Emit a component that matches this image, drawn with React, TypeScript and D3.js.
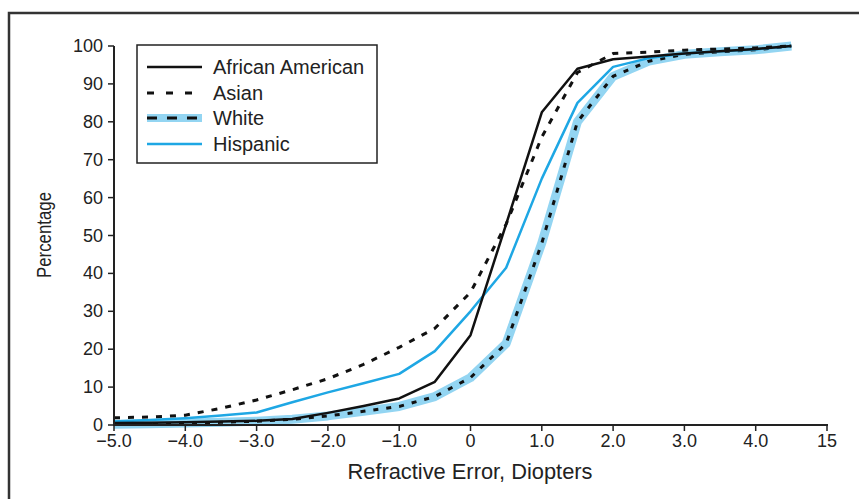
import React from "react";
import * as d3 from "d3";

const xValues = [-5, -4.5, -4, -3.5, -3, -2.5, -2, -1.5, -1, -0.5, 0, 0.5, 1, 1.5, 2, 2.5, 3, 3.5, 4, 4.5];
const africanAmerican = [0.5, 0.6, 0.7, 0.9, 1.1, 1.6, 3.2, 5, 7, 11.4, 23.7, 53, 82.5, 94, 96.5, 97.2, 98, 98.6, 99.2, 100];
const asian = [1.9, 2.1, 2.6, 4.4, 6.6, 9.3, 12.2, 16, 20.5, 25.5, 35, 53, 76, 93, 98, 98.4, 98.9, 99.2, 99.5, 100];
const white = [0.2, 0.3, 0.5, 0.7, 1, 1.5, 2.4, 3.6, 4.9, 7.5, 12.5, 21.5, 48, 80, 92, 96, 97.8, 98.5, 99, 100];
const hispanic = [0.9, 1.3, 1.8, 2.5, 3.3, 6, 8.6, 11, 13.5, 19.5, 30, 41.5, 65, 85, 94.5, 96.8, 98, 98.6, 99.1, 100];

const xTicks = [-5, -4, -3, -2, -1, 0, 1, 2, 3, 4, 5];
const xTickLabels = ["\u22125.0", "\u22124.0", "\u22123.0", "\u22122.0", "\u22121.0", "0", "1.0", "2.0", "3.0", "4.0", "15"];
const yTicks = [0, 10, 20, 30, 40, 50, 60, 70, 80, 90, 100];
const legendLabels = ["African American", "Asian", "White", "Hispanic"];

const W = 859;
const H = 499;
const FONT = "'Liberation Sans', Arial, sans-serif";
const TXT = "#222";
const BLUE = "#1ea7e4";
const BAND = "#93d5f2";

export default function App() {
  const x = d3.scaleLinear().domain([-5, 5]).range([114, 827]);
  const y = d3.scaleLinear().domain([0, 100]).range([425, 46]);
  const line = (vals: number[]) =>
    d3.line<number>().x((_, i) => x(xValues[i])).y((d) => y(d))(vals) || "";

  const legendX0 = 147;
  const legendX1 = 202;
  const legendRows = [67, 93, 118, 144];

  return (
    <svg width={W} height={H} style={{ position: "absolute", left: 0, top: 0, background: "#fff" }}>
      <rect x={9} y={13} width={900} height={600} fill="none" stroke="#333" strokeWidth={2.5} />

      {/* curves */}
      <path d={line(white)} fill="none" stroke={BAND} strokeWidth={9} strokeLinejoin="round" />
      <path d={line(white)} fill="none" stroke="#111" strokeWidth={3} strokeDasharray="5 8" />
      <path d={line(hispanic)} fill="none" stroke={BLUE} strokeWidth={2.5} strokeLinejoin="round" />
      <path d={line(asian)} fill="none" stroke="#111" strokeWidth={3} strokeDasharray="6 8" />
      <path d={line(africanAmerican)} fill="none" stroke="#111" strokeWidth={2.5} strokeLinejoin="round" />

      {/* axes */}
      <line x1={x(-5)} x2={x(5) + 1} y1={y(0)} y2={y(0)} stroke="#222" strokeWidth={2} />
      <line x1={x(-5)} x2={x(-5)} y1={y(0) + 1} y2={y(100)} stroke="#222" strokeWidth={2} />
      {xTicks.map((t, i) => (
        <g key={"xt" + t}>
          <line x1={x(t)} x2={x(t)} y1={y(0)} y2={y(0) + 6} stroke="#222" strokeWidth={1.5} />
          <text x={x(t)} y={447} textAnchor="middle" fontFamily={FONT} fontSize={18} fill={TXT}>
            {xTickLabels[i]}
          </text>
        </g>
      ))}
      {yTicks.map((t) => (
        <g key={"yt" + t}>
          <line x1={x(-5) - 6} x2={x(-5)} y1={y(t)} y2={y(t)} stroke="#222" strokeWidth={1.5} />
          <text x={103} y={y(t) + 6} textAnchor="end" fontFamily={FONT} fontSize={18} fill={TXT}>
            {t}
          </text>
        </g>
      ))}
      <text x={470} y={479} textAnchor="middle" fontFamily={FONT} fontSize={22} fill={TXT}
        textLength={245} lengthAdjust="spacingAndGlyphs">
        Refractive Error, Diopters
      </text>
      <text
        transform={`translate(51,235) rotate(-90)`}
        textAnchor="middle"
        fontFamily={FONT}
        fontSize={20}
        fill={TXT}
        textLength={86}
        lengthAdjust="spacingAndGlyphs"
      >
        Percentage
      </text>

      {/* legend */}
      <rect x={137} y={45} width={240} height={118} fill="#fff" stroke="#222" strokeWidth={1.5} />
      <line x1={legendX0} x2={legendX1} y1={legendRows[0]} y2={legendRows[0]} stroke="#111" strokeWidth={2.5} />
      <line x1={legendX0} x2={legendX1} y1={legendRows[1]} y2={legendRows[1]} stroke="#111" strokeWidth={3} strokeDasharray="7 12" />
      <line x1={legendX0} x2={legendX1} y1={legendRows[2]} y2={legendRows[2]} stroke={BAND} strokeWidth={8} />
      <line x1={legendX0} x2={legendX1} y1={legendRows[2]} y2={legendRows[2]} stroke="#111" strokeWidth={3} strokeDasharray="10 10" />
      <line x1={legendX0} x2={legendX1} y1={legendRows[3]} y2={legendRows[3]} stroke={BLUE} strokeWidth={2.5} />
      {legendLabels.map((l, i) => (
        <text key={l} x={213} y={legendRows[i] + 7} fontFamily={FONT} fontSize={20} fill={TXT}>
          {l}
        </text>
      ))}
    </svg>
  );
}
